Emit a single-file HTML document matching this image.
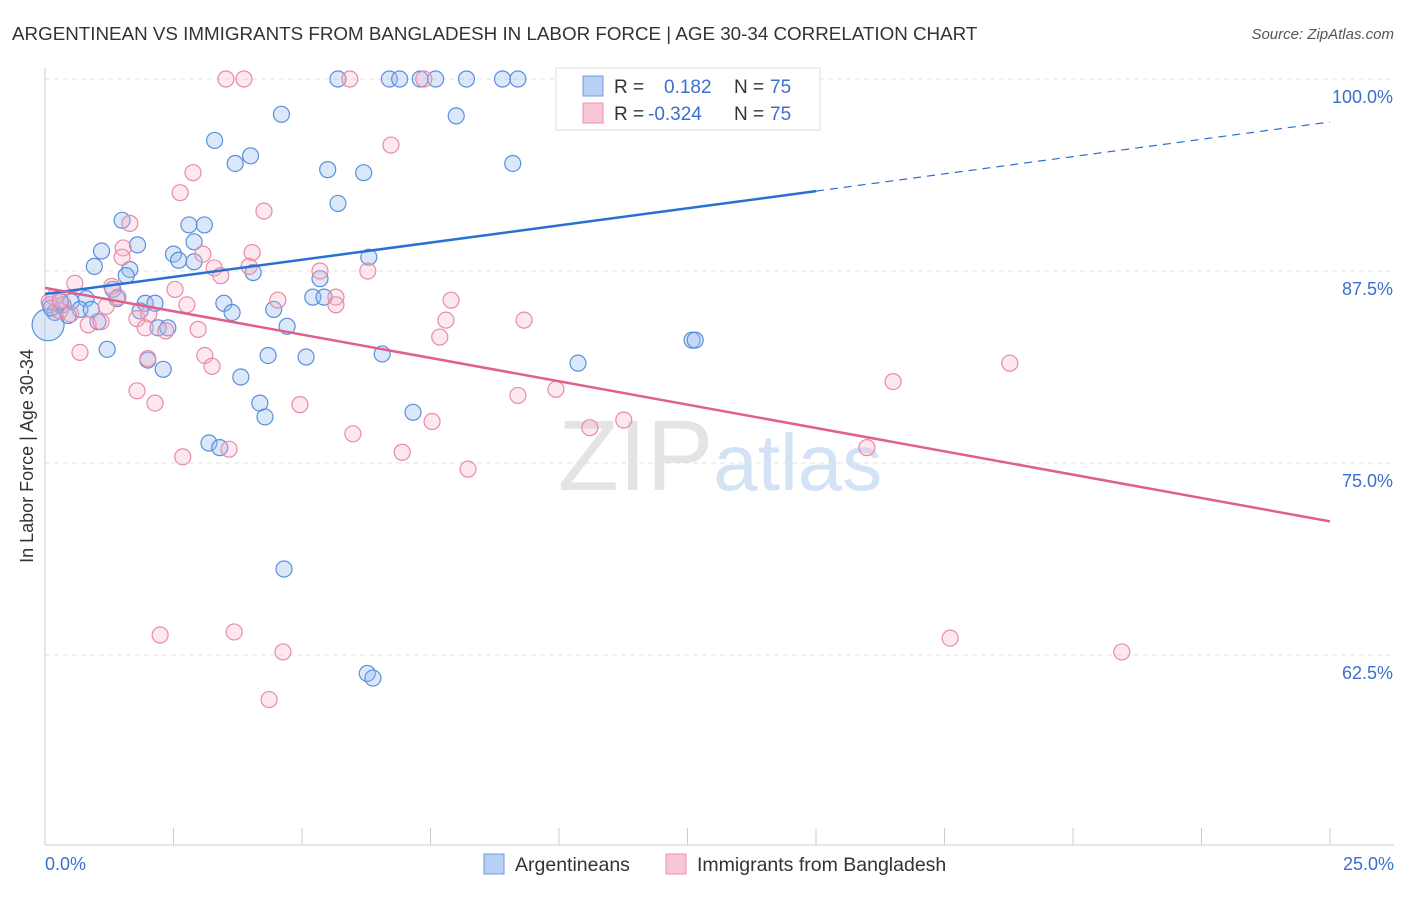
<!DOCTYPE html>
<html><head><meta charset="utf-8"><style>
body{margin:0;background:#fff;font-family:"Liberation Sans",sans-serif}
svg text{font-family:"Liberation Sans",sans-serif}
</style></head><body>
<svg width="1406" height="892" viewBox="0 0 1406 892">
<text x="12" y="40" font-size="18.8" fill="#333">ARGENTINEAN VS IMMIGRANTS FROM BANGLADESH IN LABOR FORCE | AGE 30-34 CORRELATION CHART</text>
<text x="1394" y="39" font-size="15" fill="#555" font-style="italic" text-anchor="end">Source: ZipAtlas.com</text>
<text x="720" y="490" font-size="100" fill="#e4e4e4" text-anchor="middle" font-family="Liberation Serif">ZIP<tspan fill="#d4e2f5" font-family="Liberation Sans" font-size="80">atlas</tspan></text>
<g id="grid"></g>
<g id="axes"></g>
<g id="pts"></g>
<g id="lines"></g>
<text x="33" y="456" font-size="18" fill="#333" text-anchor="middle" transform="rotate(-90 33 456)">In Labor Force | Age 30-34</text>
<g>
<rect x="556" y="68" width="264" height="62" fill="#fff" stroke="#ddd"/>
<rect x="583" y="76" width="20" height="20" fill="#b8d0f5" stroke="#6d9be0"/>
<rect x="583" y="103" width="20" height="20" fill="#f9c6d6" stroke="#e890ac"/>
<text x="614" y="93" font-size="19" fill="#333">R =</text><text x="664" y="93" font-size="19" fill="#3a6fd0">0.182</text>
<text x="734" y="93" font-size="19" fill="#333">N =</text><text x="770" y="93" font-size="19" fill="#3a6fd0">75</text>
<text x="614" y="120" font-size="19" fill="#333">R =</text><text x="648" y="120" font-size="19" fill="#3a6fd0">-0.324</text>
<text x="734" y="120" font-size="19" fill="#333">N =</text><text x="770" y="120" font-size="19" fill="#3a6fd0">75</text>
</g>
<g>
<rect x="484" y="854" width="20" height="20" fill="#b8d0f5" stroke="#6d9be0"/>
<text x="515" y="871" font-size="19.5" fill="#333">Argentineans</text>
<rect x="666" y="854" width="20" height="20" fill="#f9c6d6" stroke="#e890ac"/>
<text x="697" y="871" font-size="19.5" fill="#333">Immigrants from Bangladesh</text>
</g>
</svg>
<script>
const yTicks=[100,87.5,75,62.5];
const yTickLabels=["100.0%","87.5%","75.0%","62.5%"];
const xTickLabels=["0.0%","25.0%"];
const blueX=[5.7,6.7,6.9,7.3,7.6,8.2,8.9,9.2,4.6,8.0,3.3,3.7,4.0,9.1,5.5,6.2,5.7,1.5,2.8,3.1,1.1,1.8,2.5,2.6,2.9,2.9,0.96,1.65,1.58,4.05,6.3,1.32,1.4,1.95,2.14,0.80,0.51,0.35,0.10,0.19,0.68,3.48,3.64,4.45,5.21,5.43,5.35,1.85,1.03,2.2,2.39,4.71,1.21,2.0,2.3,4.34,5.08,6.56,10.37,12.59,12.65,3.81,4.18,4.28,7.16,3.19,3.40,4.65,6.27,6.38,0.06,0.12,0.3,0.9,0.45];
const blueY=[100,100,100,100,100,100,100,100,97.7,97.6,96.0,94.5,95.0,94.5,94.1,93.9,91.9,90.8,90.5,90.5,88.8,89.2,88.6,88.2,89.4,88.1,87.8,87.6,87.2,87.4,88.4,86.3,85.7,85.4,85.4,85.7,85.5,85.3,85.3,84.8,85.0,85.4,84.8,85.0,85.8,85.8,87.0,84.9,84.2,83.8,83.8,83.9,82.4,81.7,81.1,82.0,81.9,82.1,81.5,83.0,83.0,80.6,78.9,78.0,78.3,76.3,76.0,68.1,61.3,61.0,84.0,85.1,85.5,85.0,84.6];
const blueR=[8,8,8,8,8,8,8,8,8,8,8,8,8,8,8,8,8,8,8,8,8,8,8,8,8,8,8,8,8,8,8,8,8,8,8,8,8,8,8,8,8,8,8,8,8,8,8,8,8,8,8,8,8,8,8,8,8,8,8,8,8,8,8,8,8,8,8,8,8,8,16,8,8,8,8];
const pinkX=[3.52,3.87,5.93,7.37,6.73,2.88,2.63,4.26,1.65,1.52,1.5,4.03,3.07,3.29,3.42,3.97,5.35,6.28,2.53,0.58,0.18,0.08,0.29,1.19,1.3,1.42,2.76,4.53,5.66,5.66,7.9,7.8,9.32,7.68,1.79,2.02,0.84,1.09,1.95,2.35,2.98,0.68,3.11,3.25,2.0,1.79,2.14,4.96,9.2,9.94,11.26,7.53,5.99,6.95,3.58,2.68,8.23,10.6,15.99,16.5,18.77,2.24,3.68,4.63,4.36,17.61,20.95,0.3,0.5];
const pinkY=[100,100,100,100,95.7,93.9,92.6,91.4,90.6,89.0,88.4,88.7,88.6,87.7,87.2,87.8,87.5,87.5,86.3,86.7,85.8,85.5,84.9,85.2,86.5,85.8,85.3,85.6,85.8,85.3,85.6,84.3,84.3,83.2,84.4,84.7,84.0,84.2,83.8,83.6,83.7,82.2,82.0,81.3,81.8,79.7,78.9,78.8,79.4,79.8,77.8,77.7,76.9,75.7,75.9,75.4,74.6,77.3,76.0,80.3,81.5,63.8,64.0,62.7,59.6,63.6,62.7,85.6,84.7];
const blueLine=[86.0,92.7,97.2];
const pinkLine=[86.4,71.2];
const NS="http://www.w3.org/2000/svg";
const X0=45,X1=1330,Y100=79,PX=15.36;
const xs=v=>X0+v/25*(X1-X0);
const ys=v=>Y100+(100-v)*PX;
function mk(tag,a,parent){const e=document.createElementNS(NS,tag);for(const k in a)e.setAttribute(k,a[k]);document.getElementById(parent).appendChild(e);return e;}
yTicks.forEach((t,i)=>{
 const l=mk('line',{x1:X0,x2:1394,y1:ys(t),y2:ys(t),stroke:'#e2e2e2','stroke-dasharray':'5,4'},'grid');
 
 
 const tx=mk('text',{x:1393,y:ys(t)+24,'font-size':18,fill:'#3a6fd0','text-anchor':'end'},'grid');
 tx.textContent=yTickLabels[i];
 
 
});
let ax=mk('line',{x1:X0,x2:X0,y1:68,y2:845,stroke:'#ccc'},'axes');


ax=mk('line',{x1:X0,x2:1394,y1:845,y2:845,stroke:'#ccc'},'axes');


for(let i=0;i<=10;i++){const x=X0+i*(X1-X0)/10;const t=mk('line',{x1:x,x2:x,y1:828,y2:845,stroke:'#ccc'},'axes');
 
 }
[[X0,'start'],[1394,'end']].forEach((p,i)=>{const t=mk('text',{x:p[0],y:870,'font-size':18,fill:'#3a6fd0','text-anchor':p[1]},'axes');t.textContent=xTickLabels[i];
 
 });
blueX.forEach((v,i)=>{const c=mk('circle',{cx:xs(v),cy:ys(blueY[i]),r:blueR[i],fill:'rgba(150,190,240,0.35)',stroke:'#5a8fdc','stroke-width':1.2},'pts');
 
 });
pinkX.forEach((v,i)=>{const c=mk('circle',{cx:xs(v),cy:ys(pinkY[i]),r:8,fill:'rgba(248,180,200,0.3)',stroke:'#e98aa8','stroke-width':1.2},'pts');
 
 });
let ln=mk('line',{x1:xs(0),y1:ys(blueLine[0]),x2:xs(15),y2:ys(blueLine[1]),stroke:'#2a6fd6','stroke-width':2.5},'lines');


ln=mk('line',{x1:xs(15),y1:ys(blueLine[1]),x2:xs(25),y2:ys(blueLine[2]),stroke:'#2a6fd6','stroke-width':1.2,'stroke-dasharray':'8,6'},'lines');


ln=mk('line',{x1:xs(0),y1:ys(pinkLine[0]),x2:xs(25),y2:ys(pinkLine[1]),stroke:'#e0608a','stroke-width':2.5},'lines');


</script>
</body></html>
